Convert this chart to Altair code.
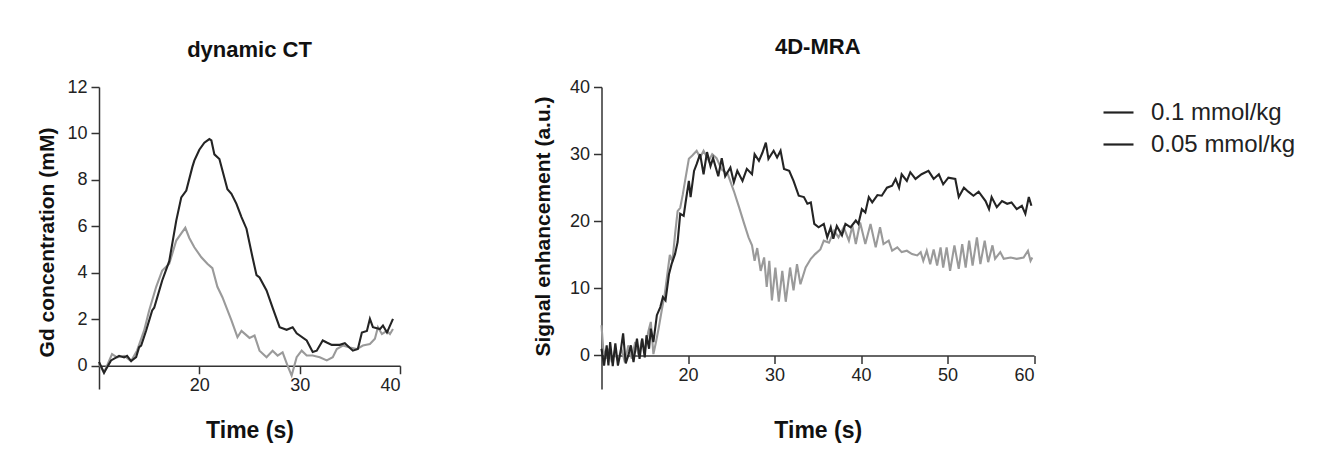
import altair as alt
import pandas as pd

HI = "0.1 mmol/kg"
LO = "0.05 mmol/kg"

# ---- dynamic CT (Gd concentration, mM) ----
ct_hi_t = [10.0, 10.5, 11.2, 12.0, 12.5, 12.8, 13.2, 13.7, 14.0, 14.2, 14.7, 15.3, 15.5, 16.3, 17.0,
           17.7, 18.2, 18.7, 19.3, 19.5, 20.0, 20.5, 21.0, 21.2, 21.5, 22.0, 22.8, 23.2, 23.7, 24.2,
           24.7, 25.3, 25.7, 26.0, 26.7, 27.3, 28.0, 28.7, 29.3, 29.7, 30.7, 31.3, 31.7, 32.3, 32.7,
           33.2, 34.0, 34.5, 35.3, 35.8, 36.2, 36.7, 37.0, 37.3, 38.0, 38.3, 38.7, 39.3]
ct_hi_v = [0.17, -0.3, 0.23, 0.43, 0.36, 0.43, 0.2, 0.37, 0.8, 0.87, 1.52, 2.38, 2.5, 3.67, 4.5,
           6.25, 7.25, 7.54, 8.55, 8.83, 9.3, 9.6, 9.76, 9.7, 9.1, 8.9, 7.6, 7.4, 6.97, 6.4,
           5.9, 4.67, 3.9, 3.8, 3.24, 2.5, 1.66, 1.55, 1.66, 1.4, 1.09, 0.59, 0.65, 1.09, 1.0,
           0.9, 0.9, 0.97, 0.65, 0.72, 1.43, 1.5, 2.02, 1.66, 1.58, 1.73, 1.43, 2.02]
ct_lo_t = [10.0, 10.5, 11.3, 11.8, 12.5, 13.2, 13.8, 14.5, 15.0, 15.7, 16.3, 17.0, 17.7, 18.2, 18.6,
           19.0, 19.5, 20.2, 20.8, 21.3, 21.8, 22.3, 23.2, 23.8, 24.2, 25.0, 25.5, 26.0, 26.7, 27.3,
           27.8, 28.3, 28.8, 29.2, 29.7, 30.2, 30.7, 31.3, 32.0, 32.7, 33.3, 33.7, 34.3, 35.0, 35.7,
           36.3, 37.0, 37.5, 37.8, 38.2, 38.7, 39.0, 39.3]
ct_lo_v = [0.1, -0.3, 0.5, 0.36, 0.43, 0.2, 0.66, 1.52, 2.38, 3.4, 4.1, 4.39, 5.39, 5.7, 5.94,
           5.5, 5.1, 4.67, 4.39, 4.2, 3.4, 2.95, 1.95, 1.23, 1.5, 1.2, 1.3, 0.65, 0.37, 0.65,
           0.44, 0.58, 0.0, -0.42, 0.37, 0.65, 0.44, 0.44, 0.37, 0.23, 0.37, 0.72, 0.87, 0.79, 0.72,
           0.87, 0.94, 1.16, 1.66, 1.37, 1.5, 1.37, 1.58]

# ---- 4D-MRA (signal enhancement, a.u.) ----
mra_hi_t = [10.0, 10.3, 10.6, 10.8, 11.0, 11.3, 11.6, 11.9, 12.2, 12.5, 12.8, 13.1, 13.4, 13.7, 14.1,
            14.4, 14.7, 15.0, 15.2, 15.5, 15.7, 16.0, 16.4, 16.8, 17.1, 17.4, 17.8, 18.1, 18.5, 18.8,
            19.1, 19.5, 19.7, 20.1, 20.3, 20.7, 21.0, 21.4, 21.8, 22.2, 22.6, 22.9, 23.5, 23.9, 24.3,
            24.9, 25.3, 25.7, 26.3, 26.8, 27.4, 27.7, 28.2, 28.6, 29.0, 29.3, 29.9, 30.3, 30.7, 31.1,
            31.7, 32.2, 32.8, 33.4, 33.8, 34.2, 34.6, 35.1, 35.7, 36.1, 36.5, 36.8, 37.2, 37.8, 38.2,
            38.8, 39.4, 39.7, 40.1, 40.5, 40.9, 41.3, 41.9, 42.4, 43.0, 43.6, 44.0, 44.4, 44.7, 45.3,
            45.7, 46.3, 47.0, 47.8, 48.4, 49.0, 49.5, 50.1, 50.9, 51.3, 51.9, 52.4, 53.0, 53.6, 54.4,
            54.8, 55.1, 55.7, 56.3, 56.9, 57.4, 58.0, 58.6, 59.0, 59.4, 59.7]
mra_hi_v = [1.0, -1.5, 1.5, -1.5, 2.0, -1.6, 1.8, -1.5, 0.5, 3.3, -1.2, 0.0, 1.5, -1.0, 2.5,
            -0.5, 2.5, -0.3, 3.0, 1.0, 4.0, 2.0, 6.0, 7.2, 8.7, 8.2, 12.1, 13.6, 15.1, 16.9,
            21.1, 20.8, 22.6, 26.0, 23.6, 27.5, 28.5, 30.0, 27.0, 30.3, 28.2, 29.4, 26.7, 29.4, 26.7,
            28.0, 25.8, 27.5, 26.0, 27.8, 27.0, 30.0, 29.0, 30.2, 31.7, 29.3, 30.5, 29.5, 30.5, 27.8,
            27.5, 26.0, 23.8, 23.6, 22.6, 22.8, 19.6, 19.1, 19.6, 17.6, 19.1, 17.4, 19.3, 17.9, 19.6,
            19.1, 20.1, 19.6, 21.8, 21.3, 23.6, 22.8, 23.9, 23.8, 25.0, 25.3, 26.3, 25.0, 27.0, 26.0,
            27.3, 26.3, 27.0, 27.5, 26.3, 27.0, 25.5, 26.5, 26.3, 23.6, 25.0, 24.4, 23.8, 24.4, 23.0,
            21.8, 23.6, 22.1, 23.0, 22.6, 22.8, 21.8, 22.3, 21.1, 23.6, 22.3]
mra_lo_t = [10.0, 10.2, 10.5, 10.8, 11.2, 11.5, 11.9, 12.3, 12.7, 13.1, 13.5, 13.9, 14.3, 14.7, 15.0,
            15.4, 15.7, 16.0, 16.3, 16.6, 17.0, 17.3, 17.6, 17.9, 18.2, 18.5, 18.8, 19.1, 19.4, 19.7,
            20.1, 20.5, 21.0, 21.4, 21.8, 22.4, 22.8, 23.3, 23.9, 24.6, 25.3, 25.9, 26.5, 27.0, 27.4,
            27.7, 28.0, 28.4, 28.8, 29.1, 29.4, 29.7, 30.1, 30.5, 30.9, 31.3, 31.8, 32.2, 32.6, 33.0,
            33.6, 34.2, 34.7, 35.3, 35.7, 36.3, 36.9, 37.4, 38.0, 38.6, 39.0, 39.4, 39.9, 40.5, 41.1,
            41.7, 42.2, 42.6, 43.2, 43.6, 44.2, 44.7, 45.3, 45.9, 46.5, 46.9, 47.2, 47.6, 48.0, 48.4,
            48.8, 49.2, 49.5, 49.9, 50.3, 50.8, 51.3, 51.7, 52.1, 52.5, 52.9, 53.4, 53.8, 54.3, 54.7,
            55.2, 55.5, 56.1, 56.5, 57.3, 58.0, 58.8, 59.3, 59.6, 59.8]
mra_lo_v = [4.5, 1.0, -0.5, 1.0, -1.0, 0.5, -0.8, 1.0, -1.0, 1.5, -0.5, 2.0, 0.0, 2.5, 0.5,
            3.5, 5.0, 0.2, 2.0, 4.0, 7.0, 9.0, 12.0, 15.0, 14.0, 18.0, 21.5, 22.0, 24.0, 26.3,
            29.3, 29.8, 30.5, 29.5, 30.5, 29.0, 30.0, 29.4, 27.7, 27.0, 24.5, 22.1, 19.6, 17.6, 16.4,
            14.1, 16.0, 12.6, 14.6, 10.2, 14.1, 8.2, 13.1, 8.0, 12.6, 8.0, 13.1, 9.7, 13.6, 10.6,
            13.1, 14.4, 15.1, 15.8, 17.1, 16.8, 18.6, 17.6, 19.1, 17.1, 19.3, 16.6, 19.8, 16.6, 19.6,
            16.1, 19.1, 16.6, 17.1, 15.6, 16.1, 15.4, 15.6, 15.1, 14.9, 15.4, 14.1, 15.6, 13.6, 15.8,
            13.4, 16.1, 13.1, 16.1, 12.6, 16.4, 12.9, 16.6, 13.1, 17.1, 13.4, 17.6, 13.6, 17.1, 13.9,
            16.4, 14.4, 15.4, 14.4, 14.6, 14.4, 14.6, 15.6, 14.1, 14.6]

FONT = "Liberation Sans"
DARK = "#242424"
GRAY = "#9a9a9a"


def frame(ts, vs, series):
    return pd.DataFrame({"t": ts, "v": vs, "series": series})


def panel(lo_df, hi_df, xdom, xticks, ydom, yticks, ytitle, title, w, h,
          xoff, xtp, ytx, yty, toff, legend):
    x = alt.X("t:Q", scale=alt.Scale(domain=xdom, nice=False, zero=False),
              axis=alt.Axis(values=xticks, offset=xoff, title="Time (s)",
                            titlePadding=xtp, titleFontSize=23, labelPadding=3))
    y = alt.Y("v:Q", scale=alt.Scale(domain=ydom, nice=False, zero=False),
              axis=alt.Axis(values=yticks, title=ytitle, titleX=ytx, titleY=yty,
                            titleBaseline="middle", labelPadding=4))
    c_lo = alt.Chart(lo_df).mark_line(strokeWidth=2.1, color=GRAY).encode(x=x, y=y)
    c_hi = alt.Chart(hi_df).mark_line(strokeWidth=2.1, color=DARK).encode(x=x, y=y)
    layers = [c_lo, c_hi]
    if legend:
        leg = alt.Legend(title=None, orient="none", legendX=1003, legendY=9, padding=0,
                         symbolType="stroke", symbolSize=900, symbolStrokeWidth=2.2,
                         labelFont=FONT, labelFontSize=24, labelColor="#222",
                         rowPadding=3, labelOffset=16)
        key = alt.Chart(pd.concat([hi_df, lo_df])).transform_filter("datum.t < 0").mark_line(
            strokeWidth=2.2).encode(
            x=x, y=y,
            color=alt.Color("series:N",
                            scale=alt.Scale(domain=[HI, LO], range=["#222222", "#222222"]),
                            legend=leg))
        layers.append(key)
    return alt.layer(*layers).properties(
        width=w, height=h,
        title=alt.TitleParams(title, font=FONT, fontSize=22, fontWeight="bold",
                              color="#111", offset=toff, anchor="middle"))


left = panel(frame(ct_lo_t, ct_lo_v, LO), frame(ct_hi_t, ct_hi_v, HI),
             [10, 40], [20, 30, 40], [-1, 12], [0, 2, 4, 6, 8, 10, 12],
             "Gd concentration (mM)", "dynamic CT", 301, 302,
             -23.25, 25, -52, 155, 16, False)
right = panel(frame(mra_lo_t, mra_lo_v, LO), frame(mra_hi_t, mra_hi_v, HI),
              [10, 60], [20, 30, 40, 50, 60], [-5, 40], [0, 10, 20, 30, 40],
              "Signal enhancement (a.u.)", "4D-MRA", 432.5, 302,
              -33.6, 35, -58, 139, 19, True)

chart = alt.concat(left, right, columns=2, spacing=130.5, align="none").properties(
    padding={"left": 28, "top": 28, "right": 5, "bottom": 0},
    background="white",
).configure_axis(
    grid=False, domainColor="#333", domainWidth=1.5, tickColor="#333", tickWidth=1.5,
    tickSize=8, labelFont=FONT, labelFontSize=18, labelColor="#222",
    titleFont=FONT, titleFontWeight="bold", titleFontSize=21, titleColor="#111",
).configure_view(stroke=None)

chart.save("out.html", embed_options={"renderer": "svg", "actions": False})
